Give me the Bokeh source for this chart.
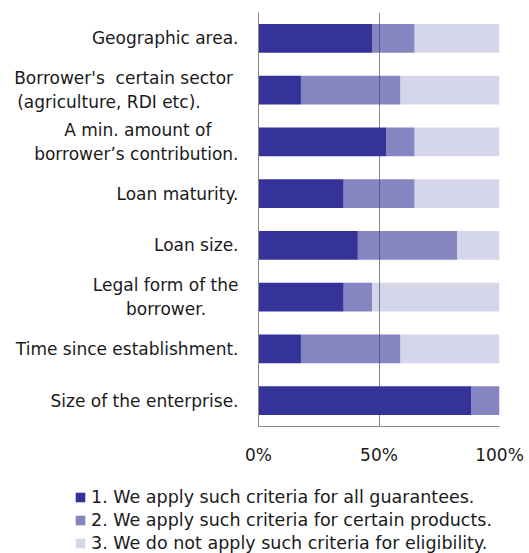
from bokeh.plotting import figure
from bokeh.models import FactorRange, Range1d, Legend, LegendItem, FixedTicker, ColumnDataSource
from bokeh.embed import file_html
from bokeh.resources import INLINE

NB = "\u00a0"
categories = [
    "Geographic area.",
    "Borrower's" + NB + NB + "certain sector" + NB + "\n(agriculture, RDI etc)." + NB * 7,
    "A min. amount of" + NB * 5 + "\nborrower\u2019s contribution.",
    "Loan maturity.",
    "Loan size.",
    "Legal form of the\nborrower." + NB * 6,
    "Time since establishment.",
    "Size of the enterprise.",
]
all_guarantees = [47.1, 17.6, 52.9, 35.3, 41.2, 35.3, 17.6, 88.2]
certain_products = [17.6, 41.2, 11.8, 29.4, 41.2, 11.8, 41.2, 11.8]
not_applied = [35.3, 41.2, 35.3, 35.3, 17.6, 52.9, 41.2, 0.0]
series_labels = [
    "1. We apply such criteria for all guarantees.",
    "2. We apply such criteria for certain products.",
    "3. We do not apply such criteria for eligibility.",
]
x_ticks = [0, 50, 100]
x_tick_labels = ["0%", "50%", "100%"]

FONT = "DejaVu Sans"
TEXT = "#1a1a1a"
GRID = "#8a8a8a"
BASE = "#333399"
ALPHAS = [1.0, 0.6, 0.2]

source = ColumnDataSource(dict(cat=categories, s1=all_guarantees, s2=certain_products, s3=not_applied))

p = figure(
    width=529, height=468,
    y_range=FactorRange(factors=list(reversed(categories)), range_padding=0),
    x_range=Range1d(0, 100),
    output_backend="svg", toolbar_location=None,
    min_border_left=258, min_border_right=30, min_border_top=12, min_border_bottom=42,
)
p.outline_line_color = None

renderers = p.hbar_stack(
    ["s1", "s2", "s3"], y="cat", height=0.56, source=source,
    color=[BASE, BASE, BASE], fill_alpha=ALPHAS, line_color=None,
)

p.ygrid.grid_line_color = None
p.xgrid.ticker = FixedTicker(ticks=x_ticks)
p.xgrid.grid_line_color = GRID
p.xgrid.grid_line_width = 1

p.xaxis.ticker = FixedTicker(ticks=x_ticks)
p.xaxis.major_label_overrides = {t: l for t, l in zip(x_ticks, x_tick_labels)}
p.xaxis.axis_line_color = GRID
p.xaxis.major_tick_line_color = None
p.xaxis.minor_tick_line_color = None
p.xaxis.major_tick_out = 0
p.xaxis.major_label_standoff = 18
p.xaxis.major_label_text_font = FONT
p.xaxis.major_label_text_font_size = "17px"
p.xaxis.major_label_text_color = TEXT

p.yaxis.axis_line_color = GRID
p.yaxis.major_tick_line_color = None
p.yaxis.minor_tick_line_color = None
p.yaxis.major_tick_out = 0
p.yaxis.major_label_standoff = 20
p.yaxis.major_label_text_font = FONT
p.yaxis.major_label_text_font_size = "17px"
p.yaxis.major_label_text_color = TEXT
p.yaxis.major_label_text_line_height = 1.22

# separate legend strip (own root, so its frame is not aligned with the chart's)
lg = figure(
    width=529, height=85,
    y_range=FactorRange(factors=list(reversed(categories))),
    x_range=Range1d(-1000, -900),
    output_backend="svg", toolbar_location=None, min_border=0,
)
lg.axis.visible = False
lg.grid.visible = False
lg.outline_line_color = None
swatches = lg.hbar_stack(
    ["s1", "s2", "s3"], y="cat", height=0.56, source=source,
    color=[BASE, BASE, BASE], fill_alpha=ALPHAS, line_color=None,
)
legend = Legend(
    items=[LegendItem(label=lab, renderers=[r]) for lab, r in zip(series_labels, swatches)],
    location=(74, -1),
    orientation="vertical",
    padding=0, margin=0, spacing=1,
    glyph_width=12, glyph_height=12, label_height=22, label_standoff=5,
    label_text_font=FONT, label_text_font_size="17.5px", label_text_color=TEXT,
    background_fill_alpha=0, border_line_color=None,
)
lg.add_layout(legend, "center")

open("out.html", "w").write(file_html([p, lg], INLINE))
